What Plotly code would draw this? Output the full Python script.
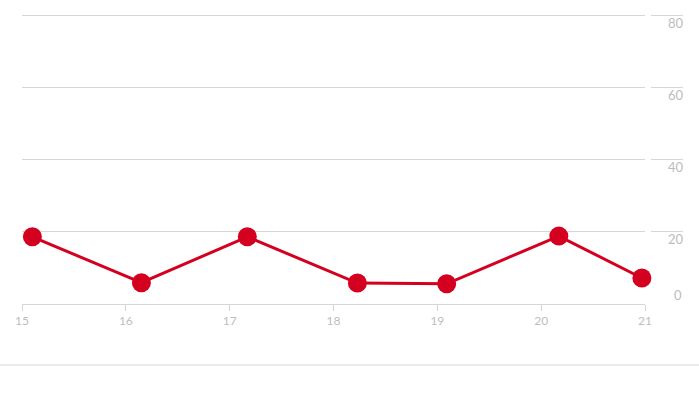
import plotly.graph_objects as go

# Data
x_vals = [15.10, 16.15, 17.17, 18.23, 19.09, 20.17, 20.97]
y_vals = [18.6, 5.9, 18.6, 5.8, 5.6, 18.8, 7.2]
x_ticks = [15, 16, 17, 18, 19, 20, 21]
y_ticks = [20, 40, 60, 80]

RED = "#d4001f"
GRID = "#d6d6d6"
LABEL = "#bdbdbd"
FONT = "Lato"

W, H = 699, 397
ml, mr, mt, mb = 22, 16, 14, 93
pw = W - ml - mr
ph = H - mt - mb
x_end = (645 - ml) / pw
y_top = 80.3

fig = go.Figure()
fig.add_trace(go.Scatter(
    x=x_vals, y=y_vals, mode="lines+markers",
    line=dict(color=RED, width=3),
    marker=dict(color=RED, size=19),
    cliponaxis=False, showlegend=False, hoverinfo="skip",
))
# invisible trace so the tick-extension axis is drawn
fig.add_trace(go.Scatter(x=[None], y=[None], yaxis="y2", showlegend=False, hoverinfo="skip"))

fig.update_layout(
    width=W, height=H,
    margin=dict(l=ml, r=mr, t=mt, b=mb, autoexpand=False),
    paper_bgcolor="white", plot_bgcolor="white",
    font=dict(family=FONT, color=LABEL),
    xaxis=dict(
        domain=[0, x_end], range=[15, 21], automargin=False,
        tickvals=x_ticks, ticktext=[str(t) for t in x_ticks],
        showgrid=False, zeroline=False,
        showline=True, linecolor=GRID, linewidth=1,
        ticks="outside", ticklen=6, tickcolor=GRID, tickwidth=1,
        tickfont=dict(size=12, color=LABEL, family=FONT),
    ),
    yaxis=dict(
        range=[0, y_top], anchor="free", position=1.0, side="right", automargin=False,
        tickvals=y_ticks, ticktext=[str(t) for t in y_ticks],
        showgrid=True, gridcolor=GRID, gridwidth=1,
        zeroline=False, showline=False, ticks="",
        ticklabelposition="inside", ticklabelshift=8, ticklabelstandoff=-3,
        ticklabeloverflow="allow",
        tickfont=dict(size=13, color=LABEL, family=FONT),
    ),
    yaxis2=dict(
        range=[0, y_top], overlaying="y", anchor="free", position=1.0, side="right",
        automargin=False,
        tickvals=y_ticks, showticklabels=False, showgrid=False, zeroline=False,
        showline=False, ticks="inside", ticklen=32, tickcolor=GRID, tickwidth=1,
    ),
    annotations=[dict(
        x=1.0, xref="paper", y=0, yref="y", text="0", showarrow=False,
        xanchor="right", yanchor="middle", yshift=9, xshift=1,
        font=dict(size=13, color=LABEL, family=FONT),
    )],
    shapes=[dict(
        type="line", xref="paper", yref="paper",
        x0=-ml / pw, x1=1 + mr / pw, y0=-(365 - (H - mb)) / ph, y1=-(365 - (H - mb)) / ph,
        line=dict(color=GRID, width=1),
    )],
)

fig.write_html("out.html")
